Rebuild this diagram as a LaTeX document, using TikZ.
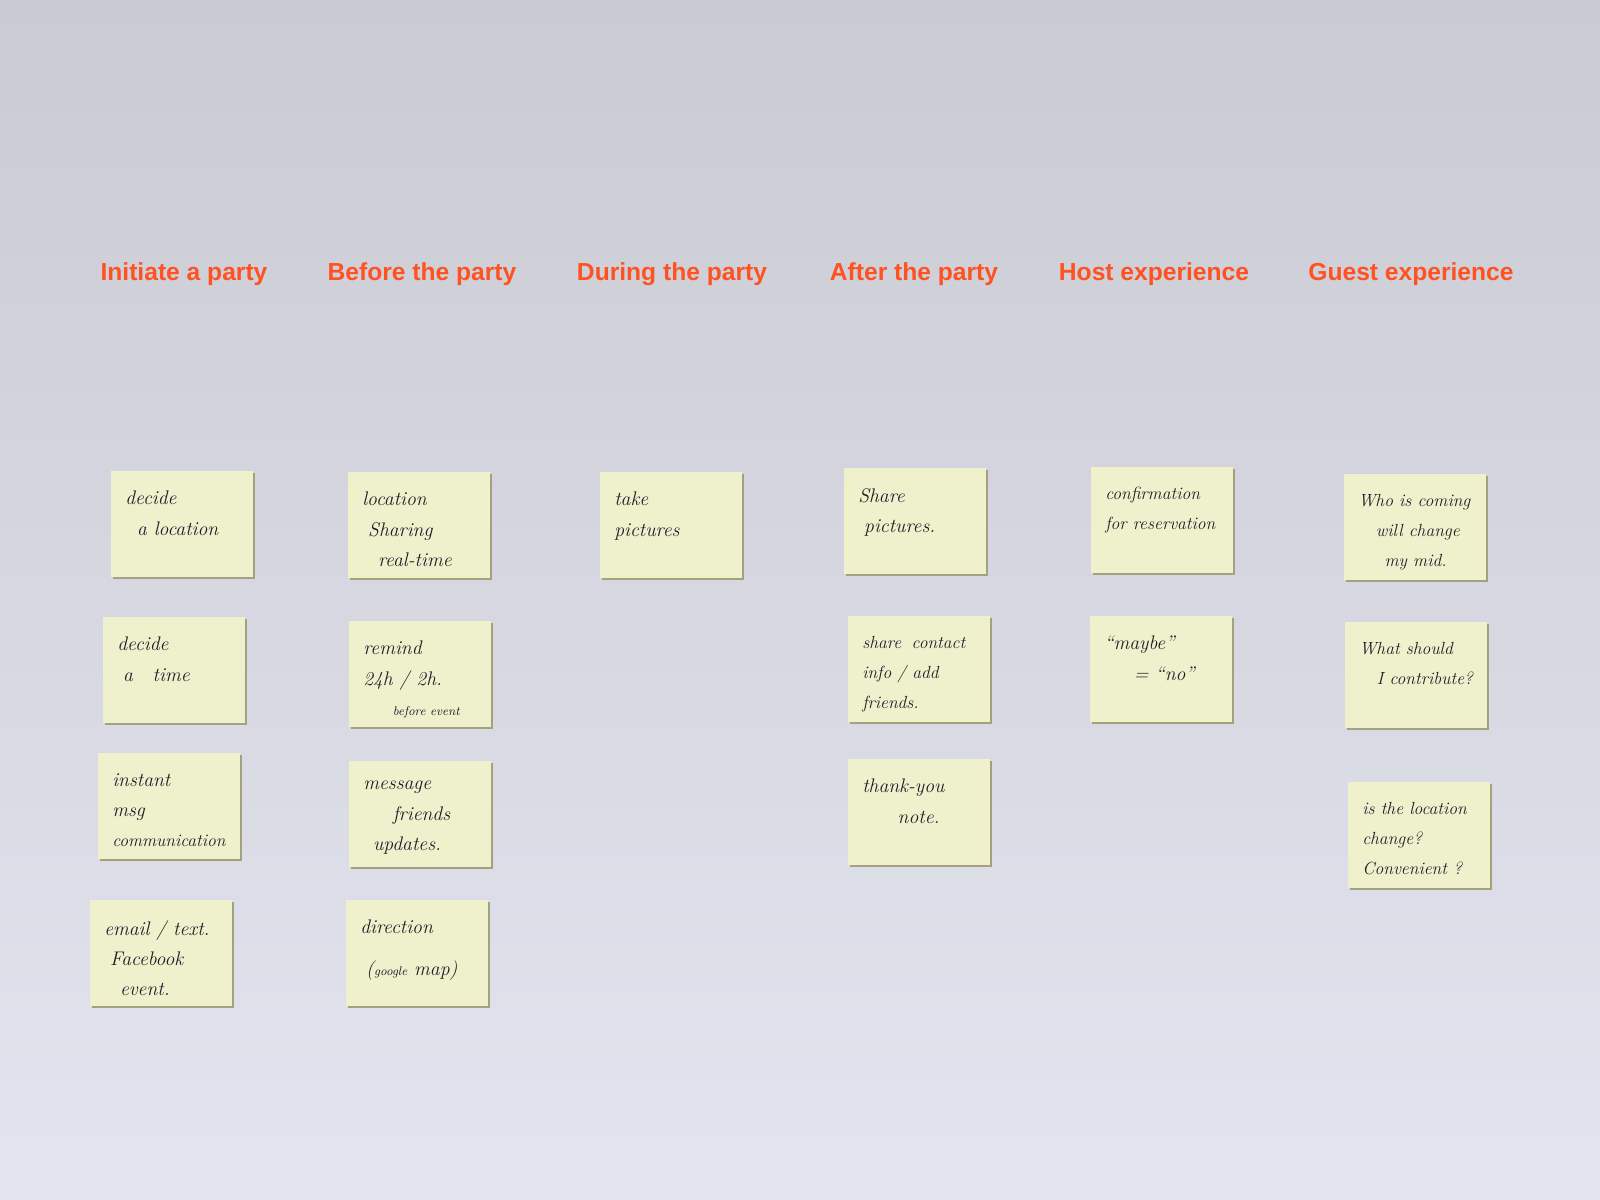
\documentclass[tikz,border=0pt]{standalone}
\usepackage{fontspec}
\usepackage{tikz}
\usetikzlibrary{calc}
\newfontfamily\headfont{Liberation Sans}
\newcommand\cramp{\fontsize{12.5}{21.5}\selectfont}
\definecolor{wall top}{HTML}{CACAD2}
\definecolor{wall bottom}{HTML}{E2E4EF}
\definecolor{headred}{HTML}{FF5220}
\definecolor{notefill}{HTML}{EFF1CD}
\definecolor{noteedge}{HTML}{A4A27E}
\definecolor{ink}{HTML}{1E1E28}

\begin{document}
\begin{tikzpicture}[x=0.025cm,y=-0.025cm,
    head/.style={text=headred,font=\headfont\bfseries\fontsize{17.5}{20}\selectfont},
    note/.style={anchor=north west,fill=notefill,minimum width=3.55cm,minimum height=2.65cm,inner sep=0pt},
    scrawl/.style={anchor=north west,align=left,inner sep=0pt,text=ink,
        font=\itshape\fontsize{14}{21.5}\selectfont},
    ]
            \shade[top color=wall top,bottom color=wall bottom] (0,0) rectangle (1600,1200);
            \useasboundingbox (0,0) rectangle (1600,1200);

            % column headings
            \node[head] (h1) at (184,274) {Initiate a party};
            \node[head] (h2) at (422,274) {Before the party};
            \node[head] (h3) at (672,274) {During the party};
            \node[head] (h4) at (914,274) {After the party};
            \node[head] (h5) at (1154,274) {Host experience};
            \node[head] (h6) at (1411,274) {Guest experience};

            % sticky notes
            \foreach \name/\x/\y/\txt in {
                    n11/111/471/{decide\\\hspace*{0.6em}a location},
                    n12/103/617/{decide\\\hspace*{0.3em}a\hspace{1em}time},
                    n13/98/753/{instant\\msg\\{\cramp communication}},
                    n14/90/900/{email / text.\\\hspace*{0.3em}Facebook\\\hspace*{0.8em}event.},
                    n21/348/472/{location\\\hspace*{0.3em}Sharing\\\hspace*{0.8em}real-time},
                    n22/349/621/{remind\\24h / 2h.\\\hspace*{1.5em}{\small before event}},
                    n23/349/761/{message\\\hspace*{1.5em}friends\\\hspace*{0.5em}updates.},
                    n24/346/900/{direction\\[8pt]\hspace*{0.3em}({\small google} map)},
                    n31/600/472/{take\\pictures},
                    n41/844/468/{Share\\\hspace*{0.3em}pictures.},
                    n42/848/616/{\cramp share\hspace{0.6em}contact\\\cramp info / add\\\cramp friends.},
                    n43/848/759/{thank-you\\\hspace*{1.8em}note.},
                    n51/1091/467/{\cramp confirmation\\\cramp for reservation},
                    n52/1090/616/{``maybe''\\\hspace*{1.5em}= ``no''},
                    n61/1344/474/{\cramp Who is coming\\\cramp\hspace*{1em}will change\\\cramp\hspace*{1.5em}my mid.},
                    n62/1345/622/{\cramp What should\\\cramp\hspace*{1em}I contribute?},
                    n63/1348/782/{\cramp is the location\\\cramp change?\\\cramp Convenient ?}}{
                \fill[noteedge] (\x+2,\y+2) rectangle (\x+144,\y+108);
                \node[note] (\name) at (\x,\y) {};
                \node[scrawl] (\name-t) at ($(\name.north west)+(14,20)$) {\txt};
            }
\end{tikzpicture}
\end{document}
